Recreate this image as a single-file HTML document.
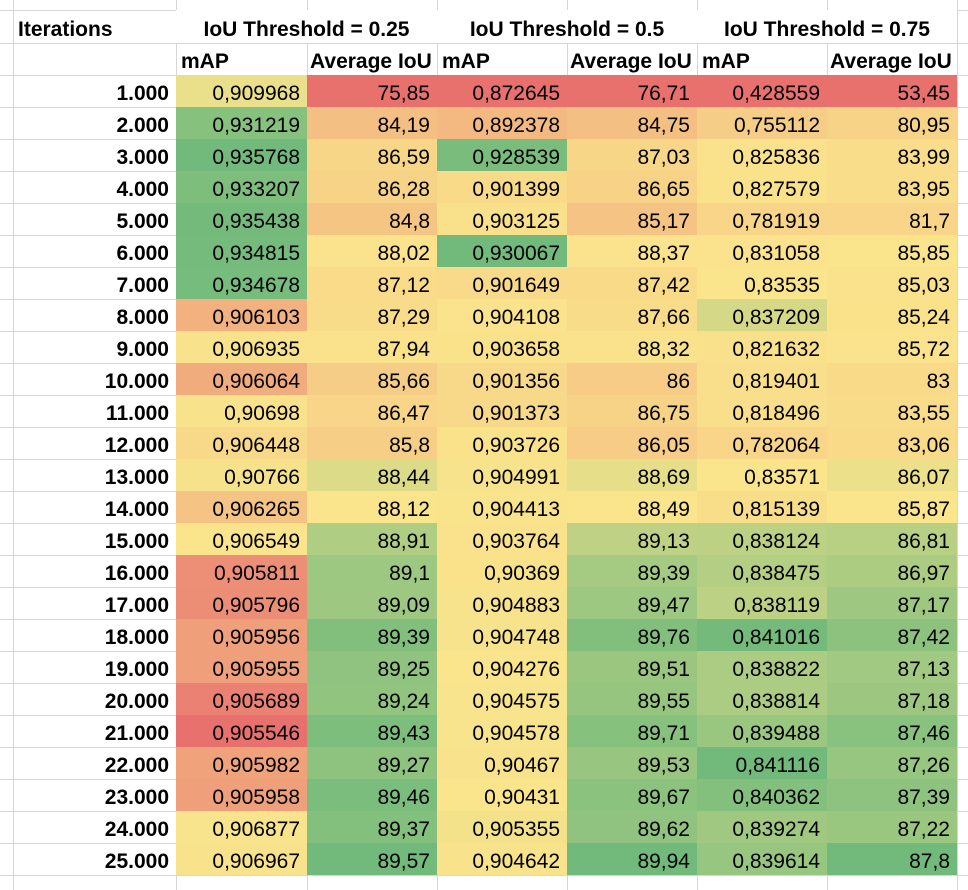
<!DOCTYPE html>
<html><head><meta charset="utf-8">
<style>
html,body{margin:0;padding:0;background:#fff;width:968px;height:890px;overflow:hidden}
#sheet{position:relative;width:968px;height:890px;font-family:"Liberation Sans",Arial,sans-serif;font-size:21px;color:#000}
.c{position:absolute;box-sizing:border-box;white-space:nowrap;overflow:hidden}
.gl{position:absolute;background:#d6d6d6}
</style></head><body>
<div id="sheet"></div>
<script>
const iterations = ["1.000","2.000","3.000","4.000","5.000","6.000","7.000","8.000","9.000","10.000","11.000","12.000","13.000","14.000","15.000","16.000","17.000","18.000","19.000","20.000","21.000","22.000","23.000","24.000","25.000"];
const map025 = [0.909968,0.931219,0.935768,0.933207,0.935438,0.934815,0.934678,0.906103,0.906935,0.906064,0.90698,0.906448,0.90766,0.906265,0.906549,0.905811,0.905796,0.905956,0.905955,0.905689,0.905546,0.905982,0.905958,0.906877,0.906967];
const iou025 = [75.85,84.19,86.59,86.28,84.8,88.02,87.12,87.29,87.94,85.66,86.47,85.8,88.44,88.12,88.91,89.1,89.09,89.39,89.25,89.24,89.43,89.27,89.46,89.37,89.57];
const map05 = [0.872645,0.892378,0.928539,0.901399,0.903125,0.930067,0.901649,0.904108,0.903658,0.901356,0.901373,0.903726,0.904991,0.904413,0.903764,0.90369,0.904883,0.904748,0.904276,0.904575,0.904578,0.90467,0.90431,0.905355,0.904642];
const iou05 = [76.71,84.75,87.03,86.65,85.17,88.37,87.42,87.66,88.32,86,86.75,86.05,88.69,88.49,89.13,89.39,89.47,89.76,89.51,89.55,89.71,89.53,89.67,89.62,89.94];
const map075 = [0.428559,0.755112,0.825836,0.827579,0.781919,0.831058,0.83535,0.837209,0.821632,0.819401,0.818496,0.782064,0.83571,0.815139,0.838124,0.838475,0.838119,0.841016,0.838822,0.838814,0.839488,0.841116,0.840362,0.839274,0.839614];
const iou075 = [53.45,80.95,83.99,83.95,81.7,85.85,85.03,85.24,85.72,83,83.55,83.06,86.07,85.87,86.81,86.97,87.17,87.42,87.13,87.18,87.46,87.26,87.39,87.22,87.8];
const thresholds = ["IoU Threshold = 0.25","IoU Threshold = 0.5","IoU Threshold = 0.75"];

const sheet = document.getElementById('sheet');
const colX = [13,176,307,437,567,697,827,957,968];
const RH = 32;
function rowTop(i){ return 75 + i*RH; }

for (const x of colX) {
  const g = document.createElement('div'); g.className='gl';
  g.style.left=x+'px'; g.style.top='0px'; g.style.width='1px'; g.style.height='890px';
  
  
  sheet.appendChild(g);
}
const hl = [10,43,75];
for (let i=1;i<=25;i++) hl.push(rowTop(i));
for (const y of hl) {
  const g = document.createElement('div'); g.className='gl';
  g.style.left='0px'; g.style.top=y+'px'; g.style.width='968px'; g.style.height='1px';
  
  
  sheet.appendChild(g);
}

function cell(x,y,w,h,text,opts){
  const d=document.createElement('div'); d.className='c';
  d.style.left=x+'px'; d.style.top=y+'px'; d.style.width=w+'px'; d.style.height=h+'px';
  d.style.lineHeight=(h+6)+'px';
  d.style.textAlign=opts.align||'left';
  d.style.padding = opts.align==='right' ? '0 7px 0 0' : (opts.align==='center'?'0':'0 0 0 5px');
  if(opts.bold) d.style.fontWeight='bold';
  if(opts.bg) d.style.background=opts.bg;
  d.textContent=text;
  sheet.appendChild(d);
  return d;
}

let h = cell(13,10,163,33,'Iterations',{bold:true});


for (let t=0;t<3;t++){
  const x=colX[1+2*t], w=colX[3+2*t]-x;
  const e=cell(x,10,w,33,thresholds[t],{bold:true,align:'center'});
  e.style.background='#fff';
  
  
  const m=cell(colX[1+2*t],43,colX[2+2*t]-colX[1+2*t],32,'mAP',{bold:true});
  
  
  const a=cell(colX[2+2*t],43,colX[3+2*t]-colX[2+2*t],32,'Average IoU',{bold:true});
  a.style.paddingLeft='3px';
  
  
}

const RED=[232,113,110], YEL=[250,228,140], GRN=[113,186,123];
function mix(a,b,t){return 'rgb('+a.map((v,i)=>Math.round(v+(b[i]-v)*t)).join(',')+')';}
function scale(arr){
  const s=[...arr].sort((a,b)=>a-b);
  const mn=s[0], mx=s[s.length-1];
  const n=s.length, pos=(n-1)*0.5, lo=Math.floor(pos);
  const md=s[lo]+(s[Math.ceil(pos)]-s[lo])*(pos-lo);
  return v=> v<=md ? mix(RED,YEL,md===mn?1:(v-mn)/(md-mn)) : mix(YEL,GRN,mx===md?0:(v-md)/(mx-md));
}
function fmt(v){return String(v).replace('.',',');}

const series=[map025,iou025,map05,iou05,map075,iou075];
const names=['map-025','iou-025','map-05','iou-05','map-075','iou-075'];
for (let i=0;i<iterations.length;i++){
  const it=cell(13,rowTop(i),163,RH,iterations[i],{bold:true,align:'right'});
  
  
}
series.forEach((arr,c)=>{
  const col=scale(arr);
  arr.forEach((v,i)=>{
    const x=colX[1+c], w=colX[2+c]-x;
    const e=cell(x,rowTop(i),w,RH,fmt(v),{align:'right',bg:col(v)});
    
    
  });
});
</script>
</body></html>
